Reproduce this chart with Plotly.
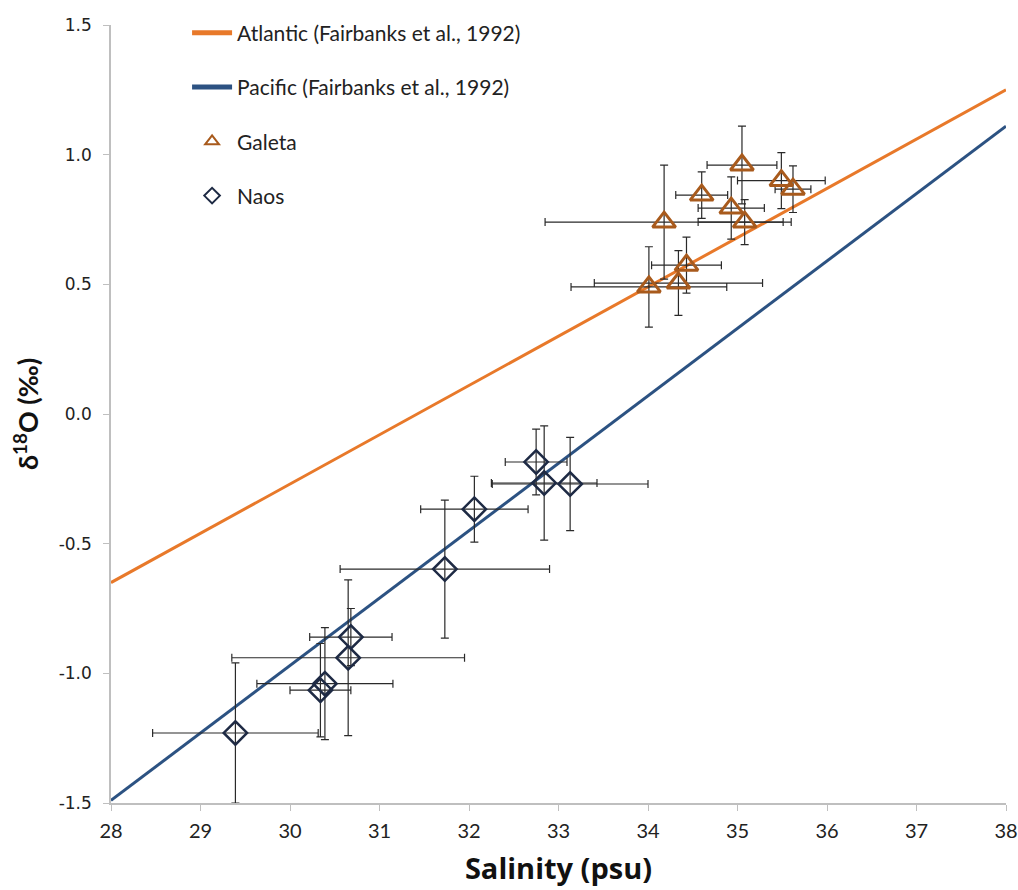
import plotly.graph_objects as go

# Reference lines (Fairbanks et al., 1992): end points over the salinity range
line_s = [28, 38]
atlantic_d18o = [-0.65, 1.25]
pacific_d18o = [-1.49, 1.11]

# Galeta samples: salinity, d18O and their uncertainties
galeta_s = [34.01, 34.18, 34.34, 34.43, 34.60, 34.93, 35.05, 35.08, 35.49, 35.62]
galeta_d = [0.49, 0.74, 0.505, 0.574, 0.844, 0.794, 0.96, 0.74, 0.90, 0.867]
galeta_s_err = [0.87, 1.33, 0.94, 0.39, 0.29, 0.37, 0.39, 0.52, 0.49, 0.20]
galeta_d_err = [0.155, 0.22, 0.125, 0.108, 0.09, 0.12, 0.15, 0.087, 0.108, 0.09]

# Naos samples
naos_s = [32.75, 32.84, 33.13, 32.06, 31.73, 30.68, 30.65, 30.39, 30.34, 29.39]
naos_d = [-0.185, -0.266, -0.27, -0.367, -0.598, -0.86, -0.94, -1.04, -1.065, -1.23]
naos_s_err = [0.345, 0.59, 0.87, 0.60, 1.17, 0.46, 1.30, 0.76, 0.34, 0.925]
naos_d_err = [0.127, 0.22, 0.18, 0.127, 0.266, 0.11, 0.30, 0.216, 0.18, 0.27]

x_ticks = [28, 29, 30, 31, 32, 33, 34, 35, 36, 37, 38]
y_ticks = [-1.5, -1.0, -0.5, 0.0, 0.5, 1.0, 1.5]
y_tick_text = ["-1.5", "-1.0", "-0.5", "0.0", "0.5", "1.0", "1.5"]

ORANGE = "#E8792A"
BLUE = "#2C5282"
BROWN = "#A85A1C"
NAVY = "#1E2A44"
ERR = "#2a2a2a"
SANS = "Lato, Open Sans, Liberation Sans"

fig = go.Figure()

fig.add_trace(go.Scatter(
    x=line_s, y=atlantic_d18o, mode="lines",
    line=dict(color=ORANGE, width=3),
    name="Atlantic (Fairbanks et al., 1992)", legendgroup="a"))
fig.add_trace(go.Scatter(
    x=line_s, y=pacific_d18o, mode="lines",
    line=dict(color=BLUE, width=3),
    name="Pacific (Fairbanks et al., 1992)", legendgroup="p"))

fig.add_trace(go.Scatter(
    x=galeta_s, y=galeta_d, mode="markers", name="Galeta", legendgroup="g",
    marker=dict(symbol="triangle-up-open", size=20, color=BROWN,
                line=dict(color=BROWN, width=3)),
    error_x=dict(type="data", array=galeta_s_err, color=ERR, thickness=1.2, width=4),
    error_y=dict(type="data", array=galeta_d_err, color=ERR, thickness=1.2, width=4)))

fig.add_trace(go.Scatter(
    x=naos_s, y=naos_d, mode="markers", name="Naos", legendgroup="n",
    marker=dict(symbol="diamond-open", size=18, color=NAVY,
                line=dict(color=NAVY, width=2.5)),
    error_x=dict(type="data", array=naos_s_err, color=ERR, thickness=1.2, width=4),
    error_y=dict(type="data", array=naos_d_err, color=ERR, thickness=1.2, width=4)))

fig.update_layout(
    width=1018, height=890,
    margin=dict(l=111, r=12, t=25, b=87),
    plot_bgcolor="white", paper_bgcolor="white",
    showlegend=True,
    legend=dict(
        x=0.085, y=1.016, xanchor="left", yanchor="top",
        bgcolor="rgba(0,0,0,0)", tracegroupgap=24, itemwidth=40,
        font=dict(family=SANS, size=21, color="#222"),
        itemsizing="constant"),
)

fig.update_xaxes(
    range=[28, 38], tickvals=x_ticks,
    automargin=False, ticklabeloverflow="allow",
    showgrid=False, zeroline=False,
    showline=True, linecolor="#BFBFBF", linewidth=1.5,
    ticks="outside", ticklen=6, tickcolor="#BFBFBF",
    ticklabelstandoff=3,
    tickfont=dict(family=SANS, size=20, color="#222"),
    title=dict(text="<b>Salinity (psu)</b>",
               font=dict(family="Open Sans, Lato", size=29, color="#111"),
               standoff=18),
)
fig.update_yaxes(
    range=[-1.5, 1.5], tickvals=y_ticks, ticktext=y_tick_text,
    showgrid=False, zeroline=False,
    showline=True, linecolor="#BFBFBF", linewidth=1.5,
    ticks="outside", ticklen=6, tickcolor="#BFBFBF",
    ticklabelstandoff=8,
    tickfont=dict(family="DejaVu Sans", size=17, color="#222"),
    title=dict(text="<b>δ<sup>18</sup>O (‰)</b>",
               font=dict(family=SANS, size=27, color="#111"),
               standoff=12),
)

fig.write_html("out.html")
